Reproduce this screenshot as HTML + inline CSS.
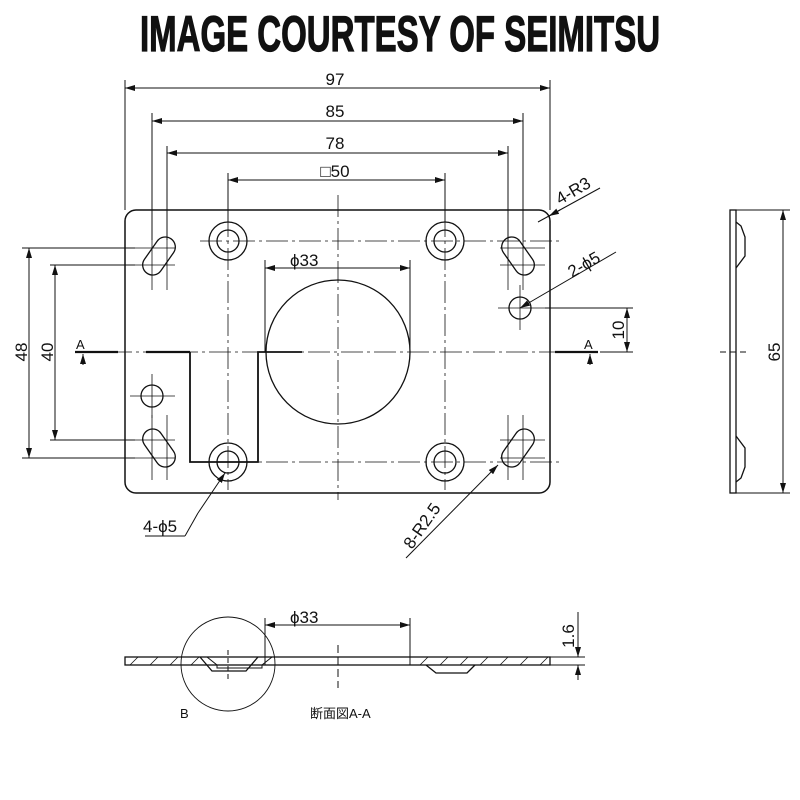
<!DOCTYPE html>
<html><head><meta charset="utf-8"><style>
html,body{margin:0;padding:0;background:#fff;width:800px;height:800px;overflow:hidden}
svg{display:block}
text{font-family:"Liberation Sans Narrow","Liberation Sans","Noto Sans CJK JP",sans-serif;fill:#111}
</style></head><body>
<svg width="800" height="800" viewBox="0 0 800 800" xmlns="http://www.w3.org/2000/svg">
<defs>
<marker id="a" viewBox="0 0 10 6" refX="10" refY="3" markerWidth="10" markerHeight="6" orient="auto-start-reverse" markerUnits="userSpaceOnUse"><path d="M0,0L10,3L0,6z" fill="#111"/></marker>
</defs>
<text x="400" y="51" text-anchor="middle" font-size="50" font-weight="bold" stroke="#111" stroke-width="1.2" transform="translate(400 0) scale(0.66 1) translate(-400 0)" style="font-family:'Liberation Sans Narrow','Liberation Sans',sans-serif">IMAGE COURTESY OF SEIMITSU</text>

<g stroke="#111" fill="none" stroke-width="1">
<line x1="125" y1="80" x2="125" y2="210"/><line x1="550" y1="80" x2="550" y2="210"/>
<line x1="125" y1="88" x2="550" y2="88" marker-start="url(#a)" marker-end="url(#a)"/>
<line x1="152" y1="113" x2="152" y2="240"/><line x1="523" y1="113" x2="523" y2="240"/>
<line x1="152" y1="121" x2="523" y2="121" marker-start="url(#a)" marker-end="url(#a)"/>
<line x1="167" y1="146" x2="167" y2="240"/><line x1="508" y1="146" x2="508" y2="240"/>
<line x1="167" y1="153" x2="508" y2="153" marker-start="url(#a)" marker-end="url(#a)"/>
<line x1="228" y1="173" x2="228" y2="222"/><line x1="445" y1="173" x2="445" y2="222"/>
<line x1="228" y1="180" x2="445" y2="180" marker-start="url(#a)" marker-end="url(#a)"/>

<rect x="125" y="210" width="425" height="283" rx="11" stroke-width="1.5"/>
<g stroke-dasharray="22,4,3,4" stroke-width="0.8">
<line x1="338" y1="195" x2="338" y2="500"/>
<line x1="110" y1="352" x2="565" y2="352"/>
<line x1="200" y1="241" x2="560" y2="241"/>
<line x1="200" y1="462" x2="560" y2="462"/>
<line x1="228" y1="215" x2="228" y2="490"/>
<line x1="445" y1="215" x2="445" y2="490"/>
</g>
<g stroke-width="1.3">
<circle cx="228" cy="241" r="19"/><circle cx="228" cy="241" r="11"/>
<circle cx="445" cy="241" r="19"/><circle cx="445" cy="241" r="11"/>
<circle cx="228" cy="462" r="19"/><circle cx="228" cy="462" r="11"/>
<circle cx="445" cy="462" r="19"/><circle cx="445" cy="462" r="11"/>
<circle cx="338" cy="352" r="72"/>
<circle cx="152" cy="396" r="11"/>
<circle cx="520" cy="308" r="11"/>
<rect x="-21" y="-10" width="42" height="20" rx="10" transform="translate(159 256) rotate(-55)"/>
<rect x="-21" y="-10" width="42" height="20" rx="10" transform="translate(159 448) rotate(55)"/>
<rect x="-21" y="-10" width="42" height="20" rx="10" transform="translate(518 256) rotate(55)"/>
<rect x="-21" y="-10" width="42" height="20" rx="10" transform="translate(518 448) rotate(-55)"/>
</g>
<g stroke-width="0.8">
<line x1="130" y1="396" x2="175" y2="396"/><line x1="152" y1="374" x2="152" y2="418"/>
<line x1="498" y1="308" x2="545" y2="308"/><line x1="520" y1="285" x2="520" y2="330"/>
<line x1="130" y1="248" x2="175" y2="248"/><line x1="130" y1="265" x2="175" y2="265"/>
<line x1="130" y1="440" x2="175" y2="440"/><line x1="130" y1="458" x2="175" y2="458"/>
<line x1="500" y1="248" x2="545" y2="248"/><line x1="500" y1="265" x2="545" y2="265"/>
<line x1="500" y1="440" x2="545" y2="440"/><line x1="500" y1="458" x2="545" y2="458"/>
<line x1="152" y1="225" x2="152" y2="290"/><line x1="167" y1="225" x2="167" y2="290"/>
<line x1="152" y1="415" x2="152" y2="480"/><line x1="167" y1="415" x2="167" y2="480"/>
<line x1="508" y1="225" x2="508" y2="290"/><line x1="523" y1="225" x2="523" y2="290"/>
<line x1="508" y1="415" x2="508" y2="480"/><line x1="523" y1="415" x2="523" y2="480"/>
</g>
<line x1="265" y1="260" x2="265" y2="352"/><line x1="410" y1="260" x2="410" y2="352"/>
<line x1="265" y1="268" x2="410" y2="268" marker-start="url(#a)" marker-end="url(#a)"/>
<g stroke-width="2.2">
<line x1="146" y1="352" x2="190" y2="352"/>
<polyline points="190,352 190,462 258,462 258,352 302,352" stroke-width="1.8"/>
<line x1="75" y1="352" x2="118" y2="352"/>
<line x1="555" y1="352" x2="598" y2="352"/>
</g>
<line x1="83" y1="365" x2="83" y2="354" marker-end="url(#a)"/>
<line x1="590" y1="365" x2="590" y2="354" marker-end="url(#a)"/>
<line x1="22" y1="248" x2="135" y2="248"/><line x1="22" y1="458" x2="135" y2="458"/>
<line x1="29" y1="248" x2="29" y2="458" marker-start="url(#a)" marker-end="url(#a)"/>
<line x1="50" y1="265" x2="135" y2="265"/><line x1="50" y1="440" x2="135" y2="440"/>
<line x1="55" y1="265" x2="55" y2="440" marker-start="url(#a)" marker-end="url(#a)"/>
<line x1="545" y1="308" x2="633" y2="308"/>
<line x1="600" y1="352" x2="633" y2="352"/>
<line x1="627" y1="308" x2="627" y2="352" marker-start="url(#a)" marker-end="url(#a)"/>
<line x1="538" y1="222" x2="600" y2="188"/>
<line x1="560" y1="210" x2="549" y2="216" marker-end="url(#a)"/>
<line x1="520" y1="308" x2="616" y2="252" marker-start="url(#a)"/>
<line x1="198" y1="513" x2="225" y2="473" marker-end="url(#a)"/>
<line x1="145" y1="536" x2="185" y2="536"/><line x1="185" y1="536" x2="198" y2="513"/>
<line x1="406" y1="558" x2="498" y2="465" marker-end="url(#a)"/>
<rect x="730" y="210" width="6" height="283" stroke-width="1.3"/>
<polyline points="736,222 741,226 745,237 745,256 736,268" stroke-width="1.3"/>
<polyline points="736,436 745,448 745,467 741,478 736,482" stroke-width="1.3"/>
<line x1="736" y1="210" x2="790" y2="210"/><line x1="736" y1="493" x2="790" y2="493"/>
<line x1="783" y1="210" x2="783" y2="493" marker-start="url(#a)" marker-end="url(#a)"/>
<line x1="720" y1="352" x2="750" y2="352" stroke-dasharray="6,4"/>
<rect x="125" y="657" width="425" height="8" stroke-width="1.3"/>
<polyline points="207,657 217,665 217,668 262,668 262,665 272,657" stroke-width="1"/>
<polyline points="200,657 212,671 246,671 258,657" stroke-width="1.3"/>
<line x1="217" y1="665" x2="248" y2="665"/>
<polyline points="426,665 436,673 467,673 475,665" stroke-width="1.3"/>
<line x1="265" y1="657" x2="265" y2="665"/><line x1="410" y1="657" x2="410" y2="665"/>
<g stroke-width="0.8">
<line x1="130" y1="665" x2="138" y2="657"/><line x1="150" y1="665" x2="158" y2="657"/><line x1="170" y1="665" x2="178" y2="657"/><line x1="191" y1="665" x2="199" y2="657"/>
<line x1="420" y1="665" x2="428" y2="657"/><line x1="440" y1="665" x2="448" y2="657"/><line x1="460" y1="665" x2="468" y2="657"/><line x1="480" y1="665" x2="488" y2="657"/><line x1="500" y1="665" x2="508" y2="657"/><line x1="520" y1="665" x2="528" y2="657"/><line x1="540" y1="665" x2="548" y2="657"/>
</g>
<circle cx="228" cy="664" r="47" stroke-width="0.9"/>
<line x1="338" y1="645" x2="338" y2="688" stroke-dasharray="8,4"/>
<line x1="228" y1="650" x2="228" y2="680" stroke-dasharray="5,3"/>
<line x1="265" y1="618" x2="265" y2="657"/><line x1="410" y1="618" x2="410" y2="657"/>
<line x1="265" y1="625" x2="410" y2="625" marker-start="url(#a)" marker-end="url(#a)"/>
<line x1="550" y1="657" x2="585" y2="657"/><line x1="550" y1="665" x2="585" y2="665"/>
<line x1="578" y1="612" x2="578" y2="657" marker-end="url(#a)"/>
<line x1="578" y1="680" x2="578" y2="665" marker-end="url(#a)"/>
</g>

<g font-size="17">
<text x="335" y="85" text-anchor="middle">97</text>
<text x="335" y="117" text-anchor="middle">85</text>
<text x="335" y="149" text-anchor="middle">78</text>
<text x="335" y="177" text-anchor="middle">□50</text>
<text x="290" y="266">ϕ33</text>
<text x="290" y="623">ϕ33</text>
<text transform="translate(27 352) rotate(-90)" text-anchor="middle">48</text>
<text transform="translate(53 352) rotate(-90)" text-anchor="middle">40</text>
<text transform="translate(624 330) rotate(-90)" text-anchor="middle">10</text>
<text transform="translate(780 352) rotate(-90)" text-anchor="middle">65</text>
<text transform="translate(574 636) rotate(-90)" text-anchor="middle">1.6</text>
<text transform="translate(560 205) rotate(-30)">4-R3</text>
<text transform="translate(572 278) rotate(-30)">2-ϕ5</text>
<text transform="translate(412 550) rotate(-55)">8-R2.5</text>
<text x="143" y="532">4-ϕ5</text>
</g>
<g font-size="13">
<text x="76" y="349">A</text>
<text x="584" y="349">A</text>
<text x="180" y="718">B</text>
<text x="310" y="718" style="font-family:'Liberation Sans','Noto Sans CJK JP',sans-serif">断面図A-A</text>
</g>
</svg>
</body></html>
